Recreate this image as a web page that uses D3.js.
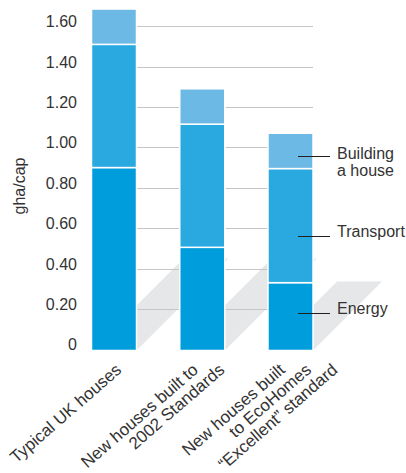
<!DOCTYPE html>
<html>
<head>
<meta charset="utf-8">
<script src="https://cdn.jsdelivr.net/npm/d3@7/dist/d3.min.js"></script>
<style>
  html, body { margin: 0; padding: 0; background: #fff; }
  svg { display: block; }
  text { font-family: "Liberation Sans", Arial, Helvetica, sans-serif; fill: #333; }
</style>
</head>
<body>
<svg id="chart" width="406" height="473"></svg>
<script>
// ---- data ----
const categories = ["Typical UK houses", "New houses built to 2002 Standards", "New houses built to EcoHomes \u201cExcellent\u201d standard"];
const categoryLines = [
  ["Typical UK houses"],
  ["New houses built to", "2002 Standards"],
  ["New houses built", "to EcoHomes", "\u201cExcellent\u201d standard"]
];
const seriesNames = ["Energy", "Transport", "Building a house"];
const energy = [0.90, 0.505, 0.33];
const transport = [0.61, 0.61, 0.565];
const building = [0.175, 0.175, 0.175];
const yTickValues = [0, 0.2, 0.4, 0.6, 0.8, 1.0, 1.2, 1.4, 1.6];
const yTickLabels = ["0", "0.20", "0.40", "0.60", "0.80", "1.00", "1.20", "1.40", "1.60"];
const yTitle = "gha/cap";
const legendLines = [["Energy"], ["Transport"], ["Building", "a house"]];
const legendAt = [0.18, 0.56, 0.955]; // value on the y scale where each label's leader sits

// ---- styles / layout ----
const colors = ["#009ddc", "#29a9e0", "#6db9e6"];
const gridColor = "#c4c5c7";
const shadowColor = "#e6e7e8";
const shadowDepth = [92, 92, 69];
const labelFirstOffset = [8.5, -3, -4.5];
const labelLineStep = 26.3;
const labelAngle = -41;

const svg = d3.select("#chart");

const x = d3.scaleBand().domain(categories).range([91.5, 313]).paddingInner(0.49).paddingOuter(0);
const y = d3.scaleLinear().domain([0, 1.6]).range([349.3, 26.2]);

const rows = categories.map((c, i) => ({ cat: c, Energy: energy[i], Transport: transport[i], "Building a house": building[i] }));
const stacked = d3.stack().keys(seriesNames)(rows);

const bw = x.bandwidth();
const base = y(0) + 1.2;

// shadows
svg.append("g").selectAll("path").data(categories).join("path")
  .attr("fill", shadowColor)
  .attr("d", (c, i) => {
    const x0 = x(c), x1 = x(c) + bw, d = shadowDepth[i];
    return `M${x0},${base}L${x1},${base}L${x1 + d},${base - d}L${x0 + d},${base - d}Z`;
  });

// gridlines
svg.append("g").selectAll("line").data(yTickValues.filter(v => v > 0)).join("line")
  .attr("x1", x(categories[0])).attr("x2", x(categories[2]) + bw)
  .attr("y1", d => Math.round(y(d)) + 0.5).attr("y2", d => Math.round(y(d)) + 0.5)
  .attr("stroke", gridColor).attr("stroke-width", 1);

// bars
svg.append("g").selectAll("g").data(stacked).join("g")
  .attr("fill", (s, i) => colors[i])
  .selectAll("rect").data(s => s.map(d => ({ d, cat: d.data.cat }))).join("rect")
  .attr("x", o => x(o.cat))
  .attr("width", bw)
  .attr("y", o => y(o.d[1]))
  .attr("height", o => (o.d[0] === 0 ? base : y(o.d[0])) - y(o.d[1]))
  .attr("stroke", "#fff").attr("stroke-width", 1.5);

// y tick labels
svg.append("g").selectAll("text").data(yTickValues).join("text")
  .attr("x", 77).attr("y", d => y(d) + 1)
  .attr("text-anchor", "end")
  .attr("font-size", 16)
  .text((d, i) => yTickLabels[i]);

// y title
svg.append("text")
  .attr("transform", "translate(25,186) rotate(-90)")
  .attr("text-anchor", "middle").attr("font-size", 16)
  .text(yTitle);

// category labels
categoryLines.forEach((lines, i) => {
  const cx = x(categories[i]) + bw / 2;
  lines.forEach((ln, k) => {
    svg.append("text")
      .attr("transform", `translate(${cx + labelFirstOffset[i] + k * labelLineStep},371.5) rotate(${labelAngle})`)
      .attr("text-anchor", "end").attr("font-size", 17)
      .text(ln);
  });
});

// legend leaders + labels
const lx0 = 298, lx1 = 330, tx = 337;
legendLines.forEach((lines, i) => {
  const ly = Math.round(y(legendAt[i])) + 0.5;
  svg.append("line").attr("x1", lx0).attr("x2", lx1).attr("y1", ly).attr("y2", ly)
    .attr("stroke", "#231f20").attr("stroke-width", 1);
  lines.forEach((ln, k) => {
    svg.append("text").attr("x", tx).attr("y", ly + (lines.length > 1 ? 2.5 : 0.5) + k * 16.5)
      .attr("font-size", 16).text(ln);
  });
});
</script>
</body>
</html>
